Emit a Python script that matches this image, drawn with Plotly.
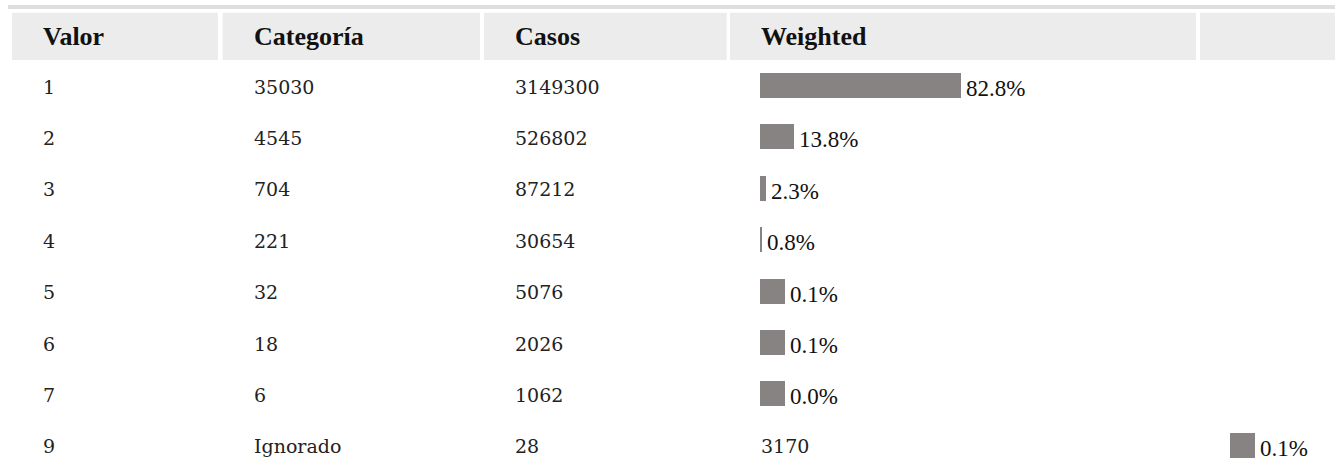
import plotly.graph_objects as go

# ---- data (as displayed in the reference table) ----
headers = ["Valor", "Categoría", "Casos", "Weighted", ""]
valor = ["1", "2", "3", "4", "5", "6", "7", "9"]
categoria = ["35030", "4545", "704", "221", "32", "18", "6", "Ignorado"]
casos = ["3149300", "526802", "87212", "30654", "5076", "2026", "1062", "28"]
weighted_text = ["", "", "", "", "", "", "", "3170"]
pct = [82.8, 13.8, 2.3, 0.8, 0.1, 0.1, 0.0, 0.1]
bar_col = [3, 3, 3, 3, 3, 3, 3, 4]   # column in which the bar is drawn (last row shifted)

# ---- layout constants (pixels) ----
W, H = 1335, 459
ROW0_PX, ROW_STEP = 85.5, 51.4
col_left = [12, 222.7, 484, 730, 1200]
col_right = [218, 480, 726.7, 1196, 1335]
PAD = 30
PX_PER_PCT = 2.43
SQUARE = 25  # renderer draws bars thinner than 1px as a square


def ry(py):
    """pixel y -> row units"""
    return 1 + (py - ROW0_PX) / ROW_STEP


n = len(valor)
rows = list(range(1, n + 1))
text_x = [l + PAD for l in col_left]

shapes = []
# top grey rule
shapes.append(dict(type="rect", xref="x", yref="y", x0=8, x1=W, y0=ry(5), y1=ry(9),
                   fillcolor="#dedede", line_width=0, layer="below"))
# header cells
for l, r in zip(col_left, col_right):
    shapes.append(dict(type="rect", xref="x", yref="y", x0=l, x1=r, y0=ry(12.7), y1=ry(60),
                       fillcolor="#ececec", line_width=0, layer="below"))

annotations = []
for i, h in enumerate(headers):
    if h:
        annotations.append(dict(x=text_x[i], y=ry(36), xref="x", yref="y", text="<b>%s</b>" % h,
                                showarrow=False, xanchor="left", yanchor="middle", borderpad=0,
                                font=dict(family="Liberation Serif", size=26, color="#111111")))

body_font = dict(family="DejaVu Serif", size=19, color="#222222")
for i in range(n):
    for c, col in enumerate([valor, categoria, casos, weighted_text]):
        if col[i]:
            annotations.append(dict(x=text_x[c], y=rows[i] + 1.0 / ROW_STEP, xref="x", yref="y",
                                    text=col[i], showarrow=False, xanchor="left", yanchor="middle",
                                    borderpad=0, font=body_font))

widths, bases = [], []
for i in range(n):
    w = pct[i] * PX_PER_PCT
    if w < 1:
        w = SQUARE
    widths.append(w)
    bases.append(text_x[bar_col[i]])

for i in range(n):
    annotations.append(dict(x=bases[i] + widths[i] + 4, y=rows[i] + 3.0 / ROW_STEP, xref="x", yref="y",
                            text="%.1f%%" % pct[i], showarrow=False, xanchor="left", yanchor="middle",
                            borderpad=0,
                            font=dict(family="Liberation Serif", size=23, color="#111111")))

fig = go.Figure()
fig.add_trace(go.Bar(orientation="h", y=rows, x=widths, base=bases, width=25 / ROW_STEP,
                     marker=dict(color="#878383", line_width=0), hoverinfo="skip", showlegend=False))

fig.update_layout(
    width=W, height=H, margin=dict(l=0, r=0, t=0, b=0),
    paper_bgcolor="white", plot_bgcolor="white",
    xaxis=dict(range=[0, W], visible=False, fixedrange=True),
    yaxis=dict(range=[ry(H), ry(0)], visible=False, fixedrange=True),
    shapes=shapes, annotations=annotations, bargap=0,
)

fig.write_html("out.html", config={"displayModeBar": False},
               post_script="document.body.style.margin='0px';document.body.style.padding='0px';"
                           "document.body.style.overflow='hidden';")
